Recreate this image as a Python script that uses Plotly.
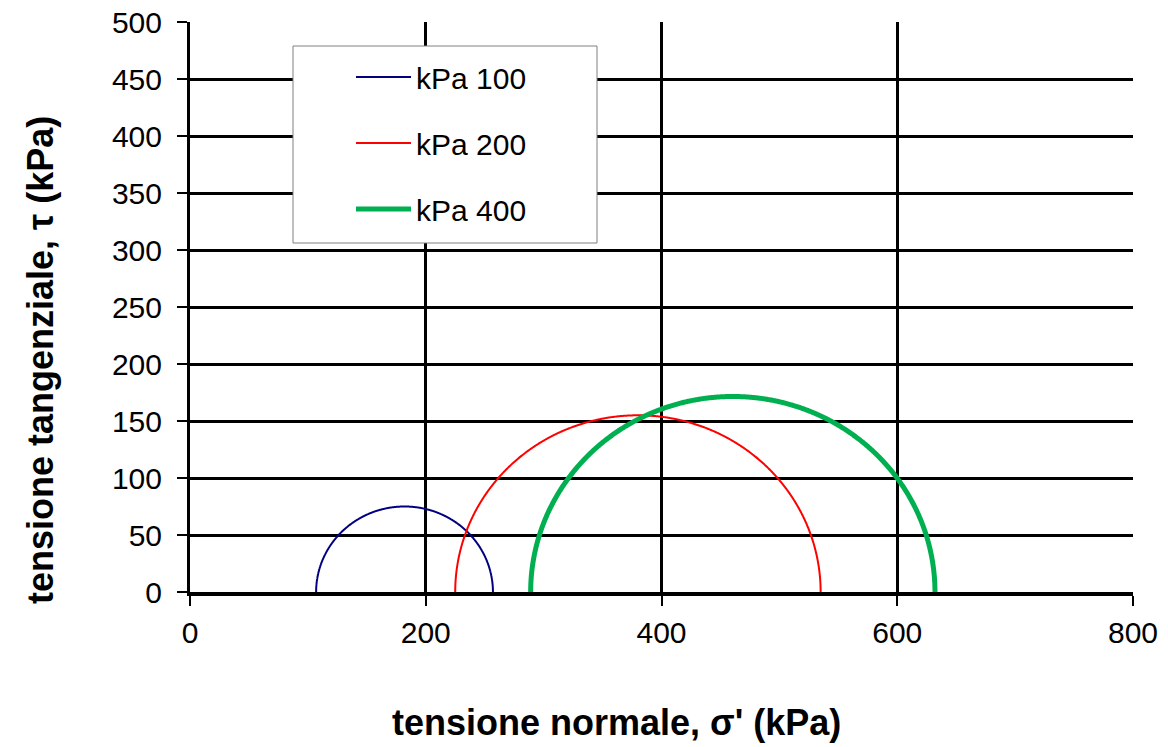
import numpy as np
import plotly.graph_objects as go

# Mohr circles (kPa)
labels = ["kPa 100", "kPa 200", "kPa 400"]
sigma3 = [107, 225, 289]
sigma1 = [257, 535, 632]
colors = ["#000080", "#FF0000", "#00B050"]
widths = [2, 2, 5]

x_ticks = [0, 200, 400, 600, 800]
y_ticks = [0, 50, 100, 150, 200, 250, 300, 350, 400, 450, 500]

fig = go.Figure()
theta = np.linspace(np.pi, 0, 721)
for lab, s3, s1, c, w in zip(labels, sigma3, sigma1, colors, widths):
    cen = (s1 + s3) / 2
    rad = (s1 - s3) / 2
    fig.add_trace(go.Scatter(
        x=cen + rad * np.cos(theta), y=rad * np.sin(theta),
        mode="lines", name=lab, legendgroup=lab,
        line=dict(color=c, width=w, simplify=False), cliponaxis=False))

font = "Liberation Sans, Arial, sans-serif"
OFF = 0  # body margin removed via post_script
L, R, T, B = 190, 35, 22, 155
W, H = 1168, 747
pw, ph = W - L - R, H - T - B

def px(xp):  # page pixel -> paper x
    return (xp - OFF - L) / pw

def py(yp):  # page pixel -> paper y
    return (H - B - (yp - OFF)) / ph

fig.update_layout(
    width=W, height=H,
    margin=dict(l=L, r=R, t=T, b=B, autoexpand=False),
    paper_bgcolor="white", plot_bgcolor="white",
    font=dict(family=font, size=30, color="black"),
    showlegend=True,
    legend=dict(x=px(351), y=py(51), xanchor="left", yanchor="top",
                bgcolor="rgba(0,0,0,0)", borderwidth=0,
                font=dict(size=30), tracegroupgap=24,
                itemwidth=55),
    shapes=[dict(type="rect", xref="paper", yref="paper",
                 x0=px(293), x1=px(597), y0=py(243), y1=py(46),
                 fillcolor="white", line=dict(color="#808080", width=1),
                 layer="above")],
    xaxis=dict(range=[0, 800], tickvals=x_ticks, showgrid=True,
               gridcolor="black", gridwidth=2.5, zeroline=False,
               showline=True, linecolor="black", linewidth=3.5,
               ticks="outside", ticklen=10, tickwidth=2, tickcolor="black",
               automargin=False, ticklabelstandoff=1,
               ticklabeloverflow="allow"),
    yaxis=dict(range=[0, 500.001], tickvals=y_ticks, showgrid=True,
               gridcolor="black", gridwidth=2.5, zeroline=False,
               showline=True, linecolor="black", linewidth=3,
               ticks="outside", ticklen=10, tickwidth=2, tickcolor="black",
               automargin=False, ticklabelstandoff=9,
               ticklabeloverflow="allow"),
    annotations=[
        dict(text="<b>tensione normale, σ' (kPa)</b>", xref="paper", yref="paper",
             x=px(616), y=py(722), xanchor="center", yanchor="middle",
             showarrow=False, font=dict(size=36)),
        dict(text="<b>tensione tangenziale, τ (kPa)</b>", xref="paper", yref="paper",
             x=px(40), y=py(360), xanchor="center", yanchor="middle",
             textangle=-90, showarrow=False, font=dict(size=36)),
    ],
)

fig.write_html("out.html",
               config={"displayModeBar": False},
               post_script="document.body.style.margin='0';")
